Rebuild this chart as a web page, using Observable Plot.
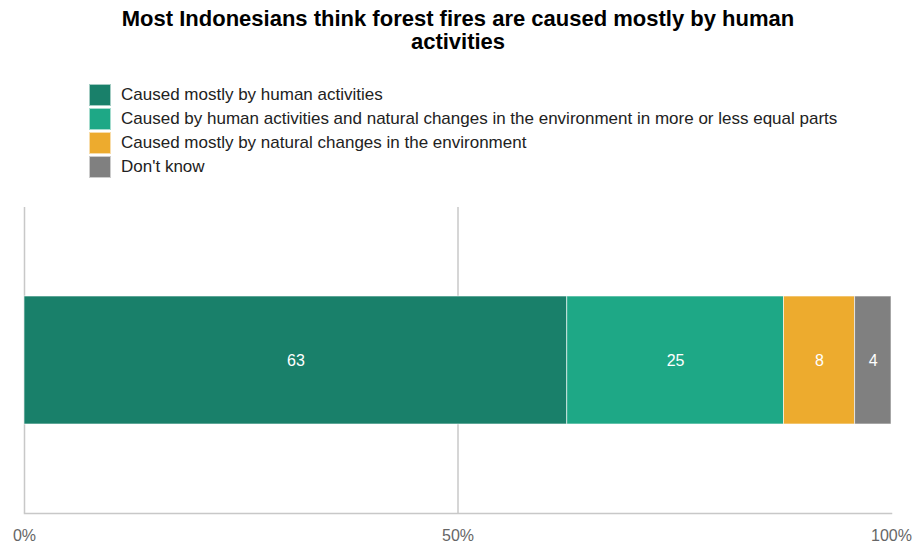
<!DOCTYPE html>
<html>
<head>
<meta charset="utf-8">
<script src="https://cdn.jsdelivr.net/npm/d3@7"></script>
<script src="https://cdn.jsdelivr.net/npm/@observablehq/plot@0.6"></script>
<style>
  body { margin: 0; background: #fff; font-family: "Liberation Sans", Arial, Helvetica, sans-serif; }
  #wrap { position: relative; width: 916px; height: 543px; overflow: hidden; }
  #title { position: absolute; left: 0; top: 7px; width: 916px; text-align: center; font-weight: bold; font-size: 22px; line-height: 23px; color: #000; }
  #legend { position: absolute; left: 89px; top: 83px; font-size: 17px; color: #222; }
  .row { display: flex; align-items: center; height: 24px; }
  .sw { width: 22px; height: 22px; margin-right: 10px; box-sizing: border-box; border: 1px solid rgba(255,255,255,0.6); }
  #chart { position: absolute; left: 0; top: 190px; }
</style>
</head>
<body>
<div id="wrap">
  <div id="title">Most Indonesians think forest fires are caused mostly by human<br>activities</div>
  <div id="legend"></div>
  <div id="chart"></div>
</div>
<script>
const question = "Indonesia";
const categories = [
  "Caused mostly by human activities",
  "Caused by human activities and natural changes in the environment in more or less equal parts",
  "Caused mostly by natural changes in the environment",
  "Don't know"
];
const values = [62.6, 25.0, 8.2, 4.2];
const colors = ["#19806a", "#1ea886", "#edab2e", "#808080"];
const gridTicks = [0, 50];
const axisTicks = [0, 50, 100];

const data = categories.map((c, i) => ({q: question, category: c, value: values[i]}));

const legend = document.getElementById("legend");
categories.forEach((c, i) => {
  const row = document.createElement("div");
  row.className = "row";
  const sw = document.createElement("div");
  sw.className = "sw";
  sw.style.background = colors[i];
  const t = document.createElement("span");
  t.textContent = c;
  row.appendChild(sw);
  row.appendChild(t);
  legend.appendChild(row);
});

const chart = Plot.plot({
  width: 916,
  height: 353,
  marginTop: 17,
  marginBottom: 30,
  marginLeft: 24,
  marginRight: 25,
  style: {fontFamily: "'Liberation Sans', Arial, sans-serif", fontSize: "16px", background: "white"},
  x: {domain: [0, 100]},
  y: {domain: [question], padding: 0.41, axis: null},
  color: {domain: categories, range: colors},
  marks: [
    Plot.ruleX(gridTicks, {stroke: "#c8c8c8", strokeWidth: 1.5}),
    Plot.frame({anchor: "bottom", stroke: "#c8c8c8", strokeWidth: 1.5}),
    Plot.barX(data, Plot.stackX({x: "value", y: "q", fill: "category", order: null, stroke: "white", strokeOpacity: 0.6, strokeWidth: 1})),
    Plot.textX(data, Plot.stackX({x: "value", y: "q", order: null, text: d => String(Math.round(d.value)), fill: "white", fontSize: 16})),
    Plot.axisX(axisTicks, {tickSize: 0, tickPadding: 16, tickFormat: d => d + "%", fill: "#666", fontSize: 16, stroke: null, label: null})
  ]
});
document.getElementById("chart").appendChild(chart);
</script>
</body>
</html>
